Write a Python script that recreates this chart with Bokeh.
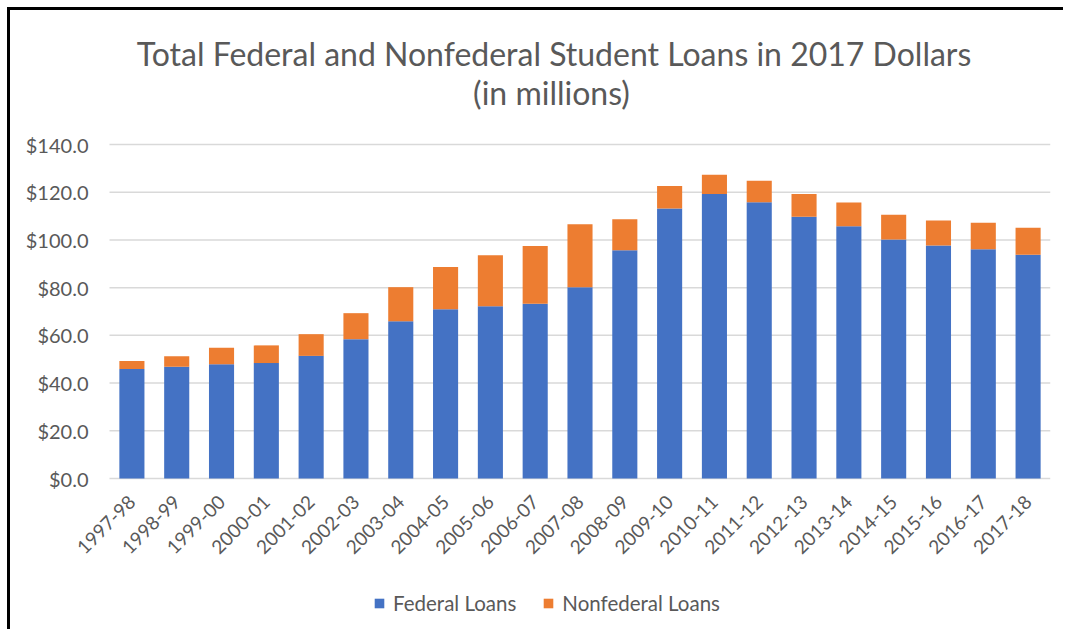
import math
from bokeh.plotting import figure
from bokeh.models import (Range1d, NumeralTickFormatter, FixedTicker,
                          Label, Legend, LegendItem, ColumnDataSource)
from bokeh.embed import file_html
from bokeh.resources import INLINE

years = ["1997-98", "1998-99", "1999-00", "2000-01", "2001-02", "2002-03", "2003-04",
         "2004-05", "2005-06", "2006-07", "2007-08", "2008-09", "2009-10", "2010-11",
         "2011-12", "2012-13", "2013-14", "2014-15", "2015-16", "2016-17", "2017-18"]
federal = [45.9, 46.8, 47.9, 48.4, 51.4, 58.4, 65.9, 70.9, 72.2, 73.2, 80.2,
           95.7, 113.2, 119.3, 115.8, 109.7, 105.7, 100.2, 97.7, 96.1, 93.8]
nonfederal = [3.4, 4.4, 6.9, 7.4, 9.1, 10.9, 14.3, 17.8, 21.4, 24.3, 26.4,
              13.0, 9.4, 8.0, 9.0, 9.6, 10.0, 10.4, 10.4, 11.1, 11.3]
y_ticks = [0, 20, 40, 60, 80, 100, 120, 140]
title_line1 = "Total Federal and Nonfederal Student Loans in 2017 Dollars"
title_line2 = "(in millions)"
series_names = ["Federal Loans", "Nonfederal Loans"]

BLUE = "#4472C4"
ORANGE = "#ED7D31"
TEXT = "#595959"
GRID = "#D9D9D9"
FONT = "Lato"

W, H = 1056, 622
LEFT, RIGHT, TOP, BOTTOM = 5, 16, 5, 5
FRAME_W = W - LEFT - RIGHT
FRAME_H = H - TOP - BOTTOM
n = len(years)
PX_PER_CAT = 941 / n              # plot area is 941 px wide
PX_PER_UNIT = 334 / 140           # $0 -> $140 spans 334 px
AXIS_FROM_LEFT = 94               # px from frame left to the plot area's left edge
ZERO_FROM_BOTTOM = 149            # px from frame bottom to the $0 line
x_lo = -0.5 - AXIS_FROM_LEFT / PX_PER_CAT
x_hi = x_lo + FRAME_W / PX_PER_CAT
y_lo = -ZERO_FROM_BOTTOM / PX_PER_UNIT
y_hi = y_lo + FRAME_H / PX_PER_UNIT

xs = list(range(n))
src = ColumnDataSource(dict(x=xs, federal=federal, nonfederal=nonfederal))

p = figure(width=W, height=H, x_range=Range1d(x_lo, x_hi), y_range=Range1d(y_lo, y_hi),
           output_backend="svg", toolbar_location=None,
           min_border_left=LEFT, min_border_right=RIGHT, min_border_top=TOP,
           min_border_bottom=BOTTOM)
p.styles = {"border-left": "3px solid black", "border-top": "3px solid black",
            "margin-left": "7px", "margin-top": "7px"}
p.outline_line_color = None
p.background_fill_color = "white"
p.border_fill_color = "white"
p.xgrid.grid_line_color = None
p.ygrid.grid_line_color = None

# horizontal gridlines over the plot area only
p.segment(x0=[-0.5] * len(y_ticks), x1=[n - 0.5] * len(y_ticks), y0=y_ticks, y1=y_ticks,
          line_color=GRID, line_width=1.5)

rs = p.vbar_stack(["federal", "nonfederal"], x="x", width=0.56, source=src,
                  color=[BLUE, ORANGE], line_color=None)

p.yaxis.fixed_location = -0.5
p.yaxis.ticker = FixedTicker(ticks=y_ticks)
p.yaxis.formatter = NumeralTickFormatter(format="$0.0")
p.yaxis.axis_line_color = None
p.yaxis.major_tick_line_color = None
p.yaxis.minor_tick_line_color = None
p.yaxis.major_tick_out = 0
p.yaxis.major_tick_in = 0
p.yaxis.major_label_standoff = 21
p.yaxis.major_label_text_font = FONT
p.yaxis.major_label_text_font_size = "20px"
p.yaxis.major_label_text_color = TEXT

p.xaxis.fixed_location = 0
p.xaxis.ticker = FixedTicker(ticks=xs)
p.xaxis.major_label_overrides = {i: years[i] for i in xs}
p.xaxis.axis_line_color = None
p.xaxis.major_tick_line_color = None
p.xaxis.minor_tick_line_color = None
p.xaxis.major_tick_out = 0
p.xaxis.major_tick_in = 0
p.xaxis.major_label_orientation = math.pi / 4
p.xaxis.major_label_standoff = 20
p.xaxis.major_label_text_font = FONT
p.xaxis.major_label_text_font_size = "19px"
p.xaxis.major_label_text_color = TEXT

# screen units are relative to the plot frame (bottom-left, y up)
for txt, xx, yy in [(title_line1, 538.5, 573.7), (title_line2, 536, 535.3)]:
    p.add_layout(Label(x=xx, y=yy, x_units="screen", y_units="screen", text=txt,
                       text_align="center", text_baseline="alphabetic",
                       text_font=FONT, text_font_size="32px", text_color=TEXT))

legend = Legend(items=[LegendItem(label=series_names[0], renderers=[rs[0]]),
                       LegendItem(label=series_names[1], renderers=[rs[1]])],
                orientation="horizontal", location=(358, 12),
                glyph_width=12, glyph_height=12, label_standoff=8, spacing=26,
                padding=0, margin=0, border_line_color=None, background_fill_alpha=0,
                label_text_font=FONT, label_text_font_size="20.5px", label_text_color=TEXT)
p.add_layout(legend, "center")

open("out.html", "w").write(file_html(p, INLINE))
